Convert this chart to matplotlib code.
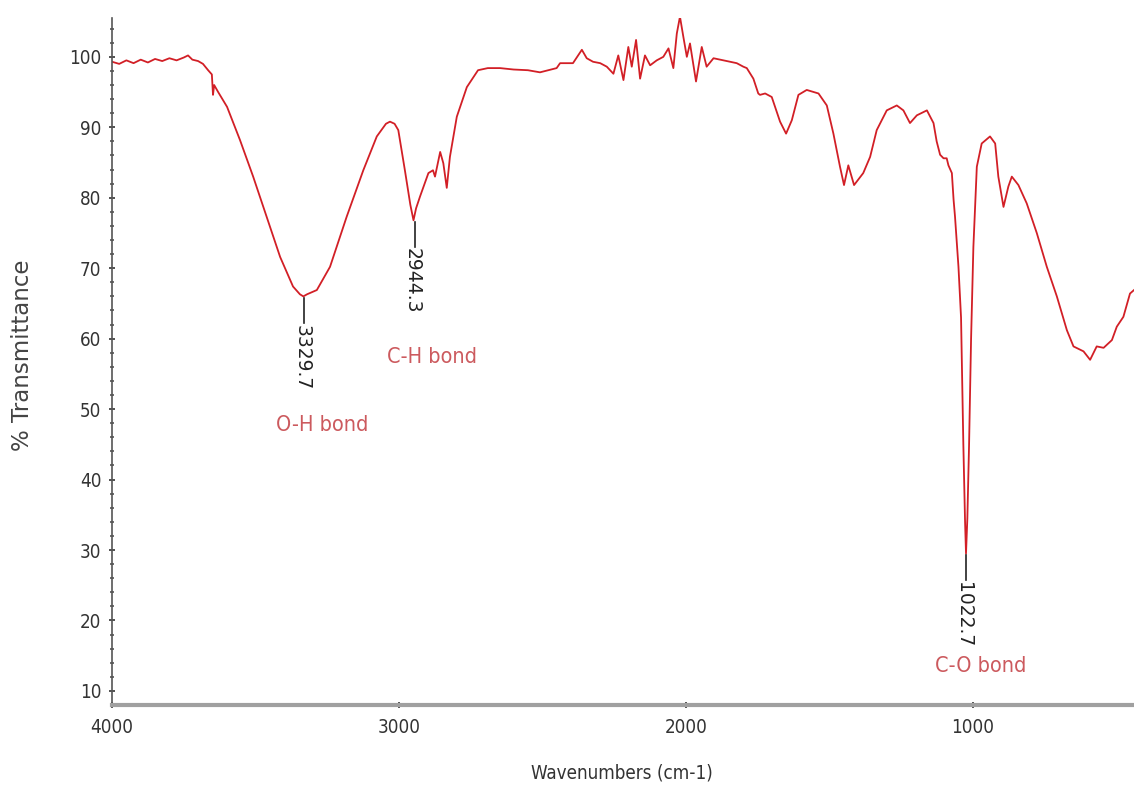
import matplotlib
matplotlib.use("Agg")
import matplotlib.pyplot as plt
from matplotlib.ticker import MultipleLocator
from matplotlib import font_manager as fm

# ---- data ----
wavenumber = [4000, 3975, 3950, 3925, 3900, 3875, 3850, 3825, 3800, 3775, 3750, 3735,
              3720, 3700, 3683, 3665, 3652, 3648, 3644, 3630, 3599, 3554, 3508, 3461,
              3414, 3369, 3345, 3333, 3320, 3286, 3240, 3182, 3124, 3077, 3045, 3031,
              3015, 3002, 2979, 2960, 2949, 2940, 2926, 2897, 2881, 2874, 2856, 2845,
              2833, 2822, 2798, 2763, 2724, 2690, 2647, 2600, 2550, 2508, 2450, 2438,
              2393, 2362, 2345, 2323, 2298, 2275, 2252, 2235, 2217, 2200, 2188, 2173,
              2159, 2142, 2124, 2101, 2078, 2060, 2043, 2031, 2020, 2008, 1996, 1985,
              1964, 1944, 1927, 1903, 1868, 1822, 1799, 1787, 1764, 1747, 1741, 1723,
              1700, 1671, 1650, 1630, 1607, 1578, 1537, 1508, 1485, 1462, 1448, 1433,
              1413, 1381, 1357, 1334, 1299, 1264, 1241, 1218, 1194, 1159, 1136, 1125,
              1113, 1101, 1090, 1084, 1072, 1066, 1061, 1049, 1040, 1032, 1026, 1022.7,
              1018, 1012, 1005, 997, 985, 968, 939, 921, 910, 892, 875, 863,
              840, 811, 776, 741, 706, 671, 648, 613, 590, 567, 543, 514,
              497, 474, 451, 437]
transmittance = [99.3, 99.0, 99.5, 99.1, 99.6, 99.2, 99.7, 99.4, 99.8, 99.5, 99.9, 100.2,
                 99.6, 99.4, 99.0, 98.1, 97.5, 94.6, 96.0, 95.0, 92.9, 88.2, 83.0, 77.3,
                 71.6, 67.4, 66.3, 66.0, 66.3, 66.9, 70.2, 77.3, 83.9, 88.7, 90.5, 90.8,
                 90.5, 89.6, 83.9, 79.0, 76.8, 78.5, 80.2, 83.5, 83.9, 83.0, 86.5, 84.9,
                 81.4, 85.8, 91.5, 95.7, 98.1, 98.4, 98.4, 98.2, 98.1, 97.8, 98.4, 99.1,
                 99.1, 101.0, 99.8, 99.3, 99.1, 98.6, 97.6, 100.2, 96.7, 101.4, 98.6, 102.4,
                 96.9, 100.2, 98.8, 99.5, 100.0, 101.2, 98.4, 103.3, 105.7, 102.8, 100.0, 101.9,
                 96.5, 101.4, 98.6, 99.8, 99.5, 99.1, 98.6, 98.4, 96.9, 94.8, 94.6, 94.8,
                 94.3, 90.8, 89.1, 91.0, 94.6, 95.3, 94.8, 93.1, 89.1, 84.4, 81.8, 84.6,
                 81.8, 83.5, 85.8, 89.6, 92.4, 93.1, 92.4, 90.6, 91.7, 92.4, 90.6, 88.0,
                 86.1, 85.6, 85.6, 84.6, 83.5, 79.7, 77.3, 70.2, 63.0, 45.0, 34.0, 29.5,
                 34.5, 45.0, 60.0, 73.0, 84.4, 87.7, 88.7, 87.7, 83.0, 78.7, 81.6, 83.0,
                 81.8, 79.2, 75.0, 70.2, 66.0, 61.2, 58.9, 58.2, 57.0, 58.9, 58.7, 59.8,
                 61.7, 63.1, 66.4, 66.9]

peak_positions = [3329.7, 2944.3, 1022.7]
peak_values = [66.0, 76.8, 29.5]
peak_labels = ["3329.7", "2944.3", "1022.7"]

bond_labels = ["O-H bond", "C-H bond", "C-O bond"]
bond_x = [3268, 2884, 973]
bond_y = [47.8, 57.4, 13.6]

x_ticks = [4000, 3000, 2000, 1000]
y_ticks = [10, 20, 30, 40, 50, 60, 70, 80, 90, 100]


# ---- pick a condensed font if one is installed ----
def find_condensed():
    prefs = ["Liberation Sans Narrow", "DejaVu Sans", "Roboto Condensed",
             "Open Sans Condensed", "Noto Sans"]
    cands = []
    for f in fm.fontManager.ttflist:
        cond = (f.stretch not in ("normal", 500, "medium")) or ("Narrow" in f.name) \
            or ("Condensed" in f.name) or ("Narrow" in f.fname) or ("Condensed" in f.fname)
        if not cond:
            continue
        if f.style != "normal" or f.weight not in (400, "normal", "regular", "book"):
            continue
        cands.append(f)
    for p in prefs:
        for f in cands:
            if f.name == p:
                return f
    return cands[0] if cands else None


cf = find_condensed()
if cf is not None:
    narrow_fp = fm.FontProperties(fname=cf.fname)
else:
    narrow_fp = fm.FontProperties(family="Roboto")

# ---- figure ----
fig = plt.figure(figsize=(11.34, 7.86), dpi=100)
ax = fig.add_axes([0.0988, 0.103, 0.9012, 0.874])

ax.plot(wavenumber, transmittance, color="#d21f26", linewidth=1.3)

ax.set_xlim(4000, 437)
ax.set_ylim(8.0, 105.5)

for xp, yp, lab in zip(peak_positions, peak_values, peak_labels):
    ax.plot([xp, xp], [yp - 0.2, yp - 3.8], color="#222222", linewidth=1.2)
    ax.text(xp + 8, yp - 4.0, lab, rotation=270, ha="center", va="top",
            fontsize=13.5, color="#222222", family="DejaVu Sans")

for lab, xb, yb in zip(bond_labels, bond_x, bond_y):
    ax.text(xb, yb, lab, ha="center", va="center", fontproperties=narrow_fp,
            fontsize=15.5, color="#cc5a5e")

ax.set_xticks(x_ticks)
ax.set_yticks(y_ticks)
ax.xaxis.set_minor_locator(MultipleLocator(200))
ax.yaxis.set_minor_locator(MultipleLocator(2))

for side in ["top", "right"]:
    ax.spines[side].set_visible(False)
ax.spines["left"].set_color("#555555")
ax.spines["left"].set_linewidth(1.2)
ax.spines["bottom"].set_color("#a0a0a0")
ax.spines["bottom"].set_linewidth(3)

ax.tick_params(axis="both", which="major", direction="inout", length=5, width=1.2,
               colors="#333333")
ax.tick_params(axis="both", which="minor", direction="inout", length=3, width=1.2,
               colors="#555555")
for lbl in ax.get_xticklabels() + ax.get_yticklabels():
    lbl.set_fontproperties(narrow_fp)
    lbl.set_fontsize(13.5)
    lbl.set_color("#333333")
ax.tick_params(axis="x", which="major", pad=7)
ax.tick_params(axis="y", which="major", pad=5)

fig.text(0.5485, 0.017, "Wavenumbers (cm-1)", ha="center", va="center",
         fontproperties=narrow_fp, fontsize=13.5, color="#333333")
fig.text(0.020, 0.548, "% Transmittance", ha="center", va="center",
         rotation=90, fontsize=16.5, color="#444444", family="DejaVu Sans")

fig.savefig("out.png", dpi=100)
